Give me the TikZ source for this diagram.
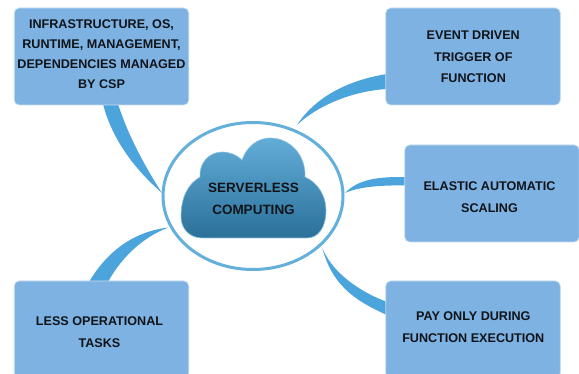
\documentclass[tikz,border=0pt]{standalone}
\usepackage{fontspec}
\setmainfont{Liberation Sans}
\usetikzlibrary{calc,shapes.geometric}
\definecolor{boxblue}{HTML}{7DB2E3}
\definecolor{boxrim}{HTML}{C4DCF2}
\definecolor{wedgeblue}{HTML}{4BA4DB}
\definecolor{ringblue}{HTML}{63B0DC}
\definecolor{cloudtop}{HTML}{62ADD8}
\definecolor{cloudbot}{HTML}{2A7099}
\definecolor{cloudrim}{HTML}{8CC4E2}
\definecolor{ink}{HTML}{101418}
\tikzset{
  x=1pt,y=-1pt,
  infobox/.style={rectangle,rounded corners=5pt,fill=boxblue,draw=boxrim,line width=0.7pt,
    minimum width=174.5pt,minimum height=97pt,inner sep=0pt},
  boxtext/.style={inner sep=0pt,align=center,text=ink,font=\bfseries\fontsize{12.6}{21.7}\selectfont},
  tighttext/.style={boxtext,font=\bfseries\fontsize{12.6}{20}\selectfont},
  wedge/.style={fill=wedgeblue,draw=none},
  ring/.style={ellipse,draw=ringblue,line width=3pt,fill=white,minimum width=180pt,minimum height=147pt,inner sep=0pt},
  cloudlabel/.style={inner sep=0pt,text=ink,align=center,font=\bfseries\fontsize{13.5}{22}\selectfont}
}
\begin{document}
\begin{tikzpicture}
\useasboundingbox (0,0) rectangle (579,374);
\clip (0,0) rectangle (579,374);
\fill[white] (0,0) rectangle (579,374);
\coordinate (hub) at (253,196);
\coordinate (tipa) at (162,193);
\coordinate (tipb) at (297,125);
\coordinate (tipc) at (345,193);
\coordinate (tipd) at (322.3,248);
\coordinate (tipe) at (168.5,227.5);
\coordinate (a1) at (103,104);
\coordinate (a2) at (118,104);
\coordinate (b1) at (387,74);
\coordinate (b2) at (387,89);
\coordinate (c1) at (406,177);
\coordinate (c2) at (406,185.5);
\coordinate (d1) at (387,302);
\coordinate (d2) at (387,315);
\coordinate (e1) at (89,282);
\coordinate (e2) at (108,282);
\fill[wedge] (a1) .. controls (111,135) and (130,165) .. (tipa) .. controls (144,165) and (128,135) .. (a2) -- cycle;
\fill[wedge] (b1) .. controls (355,79) and (318,93) .. (tipb) .. controls (317,106) and (352,91) .. (b2) -- cycle;
\fill[wedge] (c1) .. controls (385,177) and (360,177) .. (tipc) .. controls (358,187) and (380,185) .. (c2) -- cycle;
\fill[wedge] (tipd) .. controls (332,272) and (358,291) .. (d1) -- (d2) .. controls (353,300) and (332,284) .. (tipd) -- cycle;
\fill[wedge] (e1) .. controls (105,255) and (130,232) .. (tipe) .. controls (145,236) and (122,256) .. (e2) -- cycle;
\node[infobox] (infra) at (101.5,56.5) {};
\node[infobox] (event) at (473,56.5) {};
\node[infobox] (elastic) at (492,193.5) {};
\node[infobox] (pay) at (473,329.5) {};
\node[infobox] (less) at (101.5,329.5) {};
\node[tighttext] (infratext) at ($(infra)+(0,-2.7)$) {INFRASTRUCTURE, OS,\\RUNTIME, MANAGEMENT,\\DEPENDENCIES MANAGED\\BY CSP};
\node[boxtext] (eventtext) at ($(event)+(0.3,0.5)$) {EVENT DRIVEN\\TRIGGER OF\\FUNCTION};
\node[boxtext] (elastictext) at ($(elastic)+(-2.5,3.7)$) {ELASTIC AUTOMATIC\\SCALING};
\node[boxtext] (paytext) at ($(pay)+(0.3,-2)$) {PAY ONLY DURING\\FUNCTION EXECUTION};
\node[boxtext] (lesstext) at ($(less)+(-2,3)$) {LESS OPERATIONAL\\TASKS};
\node[ring] (hubring) at (hub) {};
\shade[top color=cloudtop,bottom color=cloudbot,draw=cloudrim,line width=0.6pt]
  (202,238) .. controls (190,238) and (181,229) .. (181,217)
  .. controls (181,197) and (188,184) .. (200,177)
  .. controls (199,162) and (210,152) .. (222,152)
  .. controls (230,152) and (237,155) .. (242,160)
  .. controls (247,146) and (258,138) .. (270,138)
  .. controls (290,138) and (306,155) .. (305,177)
  .. controls (317,182) and (326,195) .. (326,210)
  .. controls (326,228) and (318,238) .. (307,238) -- cycle;
\node[cloudlabel] (serverless) at (253.5,199) {SERVERLESS\\COMPUTING};
\end{tikzpicture}
\end{document}
